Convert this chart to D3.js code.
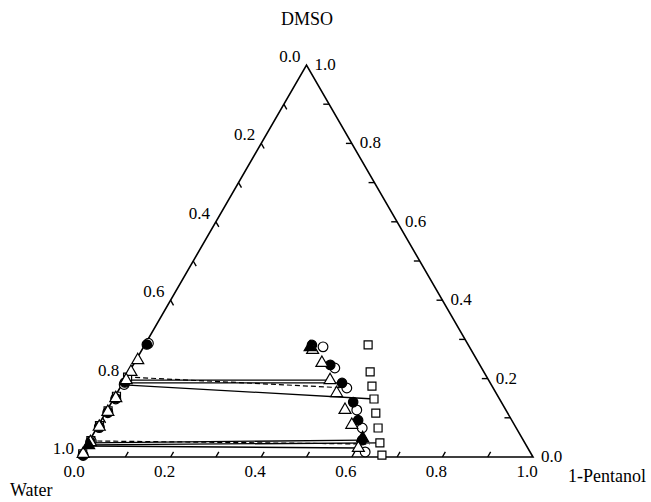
<!DOCTYPE html>
<html>
<head>
<meta charset="utf-8">
<script src="https://cdn.jsdelivr.net/npm/d3@7"></script>
<style>
  body { margin: 0; background: #fff; }
  svg { display: block; font-family: "Liberation Serif", "Times New Roman", serif; }
</style>
</head>
<body>
<svg></svg>
<script>
// compositions stored as [pentanol, dmso] mole fractions (water = 1 - both)
let axisTicks = [0, 0.1, 0.2, 0.3, 0.4, 0.5, 0.6, 0.7, 0.8, 0.9, 1.0];
let axisLabels = [0, 0.2, 0.4, 0.6, 0.8, 1.0];

let filledCircles = [
  [0.004, 0.287], [0.004, 0.19], [0.004, 0.15], [0.004, 0.115], [0.004, 0.077], [0.004, 0.038], [0.004, 0.005],
  [0.369, 0.286], [0.435, 0.235], [0.484, 0.189], [0.533, 0.14], [0.567, 0.094], [0.601, 0.043]
];
let openCircles = [
  [0.006, 0.29], [0.005, 0.185], [0.005, 0.148], [0.005, 0.113], [0.005, 0.075], [0.005, 0.04], [0.005, 0.004],
  [0.396, 0.281], [0.449, 0.227], [0.501, 0.176], [0.551, 0.12], [0.586, 0.074], [0.623, 0.013]
];
let openTriangles = [
  [0.004, 0.247], [0.004, 0.217], [0.004, 0.196], [0.004, 0.15], [0.004, 0.115], [0.004, 0.077], [0.004, 0.038], [0.003, 0.008],
  [0.377, 0.273], [0.414, 0.24], [0.454, 0.196], [0.485, 0.163], [0.525, 0.12], [0.559, 0.082], [0.603, 0.023]
];
let openSquares = [
  [0.003, 0.204], [0.003, 0.155], [0.003, 0.118], [0.003, 0.08], [0.003, 0.042], [0.002, 0.008],
  [0.493, 0.286], [0.532, 0.217], [0.554, 0.181], [0.575, 0.148], [0.597, 0.112], [0.621, 0.074], [0.644, 0.036], [0.664, 0.005]
];
let filledTriangles = [[0.004, 0.03], [0.368, 0.28], [0.6, 0.048]];

// tie lines: [left phase, right phase]
let solidTies = [
  [[0.001, 0.196], [0.454, 0.196]],
  [[0.005, 0.189], [0.484, 0.189]],
  [[0.005, 0.184], [0.575, 0.148]],
  [[0.0, 0.036], [0.601, 0.043]],
  [[0.002, 0.031], [0.644, 0.036]],
  [[0.003, 0.028], [0.603, 0.023]]
];
let dashedTies = [
  [[0.002, 0.204], [0.501, 0.176]],
  [[0.0, 0.041], [0.623, 0.033]]
];

let width = 651;
let height = 502;

let svg = d3.select("svg").attr("width", width).attr("height", height);

let xScale = d3.scaleLinear().domain([0, 1]).range([80, 533]);
let yScale = d3.scaleLinear().domain([0, 1]).range([457, 65]);

let tern = (p, d) => [xScale(p + d / 2), yScale(d)];

let drawAxes = () => {
  let corners = [tern(0, 0), tern(1, 0), tern(0, 1)];
  svg.append("path")
    .attr("d", "M" + corners.join("L") + "Z")
    .attr("fill", "none")
    .attr("stroke", "#000")
    .attr("stroke-width", 1.6)
    .attr("stroke-linejoin", "miter");

  let tl = 0.013;
  let ticks = [];
  axisTicks.slice(1, -1).forEach((t) => {
    ticks.push([tern(t, 0), tern(t, tl)]);                 // pentanol (bottom)
    ticks.push([tern(1 - t, t), tern(1 - t - tl, t)]);     // dmso (right)
    ticks.push([tern(0, 1 - t), tern(tl, 1 - t - tl)]);    // water (left)
  });
  svg.append("g").selectAll("line")
    .data(ticks)
    .enter()
    .append("line")
    .attr("x1", (s) => s[0][0]).attr("y1", (s) => s[0][1])
    .attr("x2", (s) => s[1][0]).attr("y2", (s) => s[1][1])
    .attr("stroke", "#000")
    .attr("stroke-width", 1.4);

  let fmt = d3.format(".1f");
  let labels = svg.append("g").attr("font-size", 17).attr("fill", "#000");
  axisLabels.forEach((t) => {
    let b = tern(t, 0);
    labels.append("text").attr("x", b[0] - 6).attr("y", b[1] + 20)
      .attr("text-anchor", "middle").text(fmt(t));
    let r = tern(1 - t, t);
    labels.append("text").attr("x", r[0] + 8).attr("y", r[1] + 5)
      .attr("text-anchor", "start").text(fmt(t));
    let l = tern(0, 1 - t);
    labels.append("text").attr("x", l[0] - 6).attr("y", l[1] - 3)
      .attr("text-anchor", "end").text(fmt(t));
  });

  let names = svg.append("g").attr("font-size", 18);
  names.append("text").attr("x", 307).attr("y", 25).attr("text-anchor", "middle").text("DMSO");
  names.append("text").attr("x", 10).attr("y", 496).text("Water");
  names.append("text").attr("x", 568).attr("y", 482).text("1-Pentanol");
};

let drawTies = () => {
  let line = d3.line().x((c) => tern(c[0], c[1])[0]).y((c) => tern(c[0], c[1])[1]);
  svg.append("g").selectAll("path")
    .data(solidTies)
    .enter()
    .append("path")
    .attr("d", line)
    .attr("fill", "none")
    .attr("stroke", "#000")
    .attr("stroke-width", 1.3);
  svg.append("g").selectAll("path")
    .data(dashedTies)
    .enter()
    .append("path")
    .attr("d", line)
    .attr("fill", "none")
    .attr("stroke", "#000")
    .attr("stroke-width", 1.2)
    .attr("stroke-dasharray", "5,3");
};

let drawPoints = (values, shape, size, fill) => {
  svg.append("g").selectAll("path")
    .data(values)
    .enter()
    .append("path")
    .attr("d", d3.symbol().type(shape).size(size))
    .attr("transform", (c) => "translate(" + tern(c[0], c[1]) + ")")
    .attr("fill", fill)
    .attr("stroke", "#000")
    .attr("stroke-width", 1.2);
};

drawAxes();
drawTies();
drawPoints(openSquares, d3.symbolSquare, 64, "#fff");
drawPoints(openCircles, d3.symbolCircle, 74, "#fff");
drawPoints(filledCircles, d3.symbolCircle, 70, "#000");
drawPoints(openTriangles, d3.symbolTriangle, 62, "#fff");
drawPoints(filledTriangles, d3.symbolTriangle, 62, "#000");
</script>
</body>
</html>
